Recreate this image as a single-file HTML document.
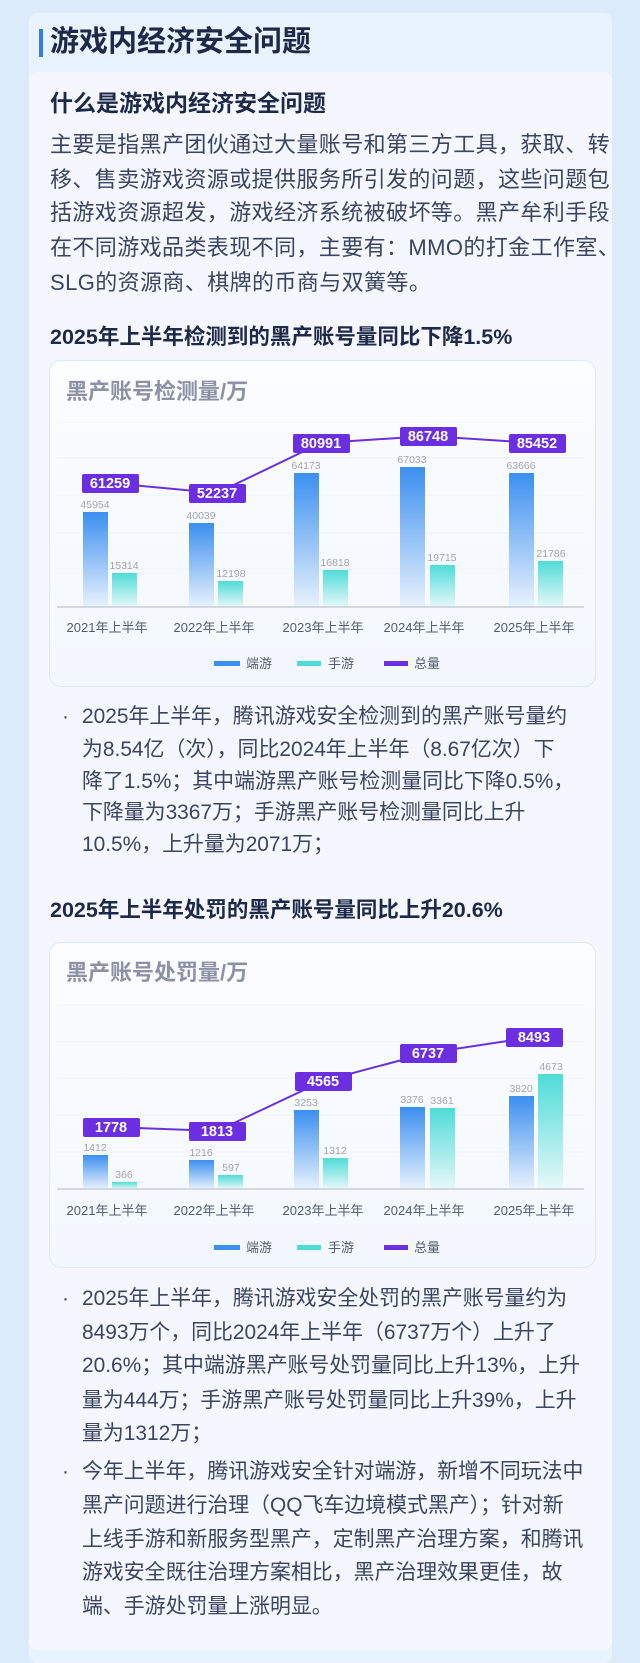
<!DOCTYPE html>
<html><head><meta charset="utf-8"><style>
*{margin:0;padding:0;box-sizing:border-box}
body{width:640px;height:1663px;background:#dcebfa;position:relative;overflow:hidden;font-family:"Liberation Sans","Noto Sans CJK SC",sans-serif}
.a{position:absolute;white-space:nowrap}
.t{color:#3b4461;font-size:20.9px;height:34px;line-height:34px}
.b{font-size:22px;letter-spacing:0.4px}
.h{color:#1e2848;font-weight:bold}
</style></head><body>
<div class="a" style="left:29px;top:13px;width:583px;height:1650px;background:#e9f3fd;border-radius:8px"></div>
<div class="a" style="left:29px;top:72px;width:583px;height:1578px;background:#f4f8fe;border-radius:8px"></div>
<div class="a" style="left:39px;top:29px;width:4px;height:28px;background:#2f7fe6"></div>
<div class="a h" style="left:50px;top:24px;font-size:29px;line-height:36px">游戏内经济安全问题</div>
<div class="a h" style="left:50px;top:89px;font-size:23px;line-height:28px">什么是游戏内经济安全问题</div>
<div class="a t b" style="left:50px;top:128px">主要是指黑产团伙通过大量账号和第三方工具，获取、转</div>
<div class="a t b" style="left:50px;top:163px">移、售卖游戏资源或提供服务所引发的问题，这些问题包</div>
<div class="a t b" style="left:50px;top:196px">括游戏资源超发，游戏经济系统被破坏等。黑产牟利手段</div>
<div class="a t b" style="left:50px;top:231px">在不同游戏品类表现不同，主要有：MMO的打金工作室、</div>
<div class="a t b" style="left:50px;top:266px">SLG的资源商、棋牌的币商与双簧等。</div>
<div class="a h" style="left:50px;top:324px;font-size:21.5px;line-height:26px">2025年上半年检测到的黑产账号量同比下降1.5%</div>

<div class="a" style="left:49px;top:360px;width:547px;height:327px;background:linear-gradient(#fbfdff,#f3f8fe);border:1px solid #dbe8f6;border-radius:12px"></div>
<div class="a" style="left:66px;top:379px;font-size:22px;line-height:26px;font-weight:bold;color:#8c91a6">黑产账号检测量/万</div>

<div class="a t" style="left:62px;top:700px">·</div>
<div class="a t" style="left:82px;top:700px">2025年上半年，腾讯游戏安全检测到的黑产账号量约</div>
<div class="a t" style="left:82px;top:733px">为8.54亿（次），同比2024年上半年（8.67亿次）下</div>
<div class="a t" style="left:82px;top:765px">降了1.5%；其中端游黑产账号检测量同比下降0.5%，</div>
<div class="a t" style="left:82px;top:796px">下降量为3367万；手游黑产账号检测量同比上升</div>
<div class="a t" style="left:82px;top:828px">10.5%，上升量为2071万；</div>
<div class="a h" style="left:50px;top:897px;font-size:21.5px;line-height:26px">2025年上半年处罚的黑产账号量同比上升20.6%</div>

<div class="a" style="left:49px;top:942px;width:547px;height:326px;background:linear-gradient(#fbfdff,#f3f8fe);border:1px solid #dbe8f6;border-radius:12px"></div>
<div class="a" style="left:66px;top:960px;font-size:22px;line-height:26px;font-weight:bold;color:#8c91a6">黑产账号处罚量/万</div>

<div class="a t" style="left:62px;top:1282px">·</div>
<div class="a t" style="left:82px;top:1282px">2025年上半年，腾讯游戏安全处罚的黑产账号量约为</div>
<div class="a t" style="left:82px;top:1316px">8493万个，同比2024年上半年（6737万个）上升了</div>
<div class="a t" style="left:82px;top:1349px">20.6%；其中端游黑产账号处罚量同比上升13%，上升</div>
<div class="a t" style="left:82px;top:1384px">量为444万；手游黑产账号处罚量同比上升39%，上升</div>
<div class="a t" style="left:82px;top:1417px">量为1312万；</div>
<div class="a t" style="left:62px;top:1455px">·</div>
<div class="a t" style="left:82px;top:1455px">今年上半年，腾讯游戏安全针对端游，新增不同玩法中</div>
<div class="a t" style="left:82px;top:1489px">黑产问题进行治理（QQ飞车边境模式黑产）；针对新</div>
<div class="a t" style="left:82px;top:1523px">上线手游和新服务型黑产，定制黑产治理方案，和腾讯</div>
<div class="a t" style="left:82px;top:1556px">游戏安全既往治理方案相比，黑产治理效果更佳，故</div>
<div class="a t" style="left:82px;top:1590px">端、手游处罚量上涨明显。</div>

<svg class="a" style="left:0;top:0" width="640" height="1663" font-family="Liberation Sans, Noto Sans CJK SC, sans-serif">
<defs>
<linearGradient id="gb" x1="0" y1="0" x2="0" y2="1"><stop offset="0" stop-color="#3b8ff0"/><stop offset="1" stop-color="#e8f2fd"/></linearGradient>
<linearGradient id="gc" x1="0" y1="0" x2="0" y2="1"><stop offset="0" stop-color="#4fdcd8"/><stop offset="1" stop-color="#e6f8f8"/></linearGradient>
</defs>
<g stroke="#eef2f7" stroke-width="1">
<line x1="57" x2="584" y1="422" y2="422"/><line x1="57" x2="584" y1="458" y2="458"/><line x1="57" x2="584" y1="495" y2="495"/><line x1="57" x2="584" y1="533" y2="533"/><line x1="57" x2="584" y1="569" y2="569"/>
<line x1="57" x2="584" y1="1005" y2="1005"/><line x1="57" x2="584" y1="1042" y2="1042"/><line x1="57" x2="584" y1="1078" y2="1078"/><line x1="57" x2="584" y1="1115" y2="1115"/><line x1="57" x2="584" y1="1152" y2="1152"/>
</g>
<g>
<rect x="83" y="512" width="25" height="95" fill="url(#gb)"/><rect x="112" y="573" width="25" height="34" fill="url(#gc)"/>
<rect x="189" y="523" width="25" height="84" fill="url(#gb)"/><rect x="218" y="581" width="25" height="26" fill="url(#gc)"/>
<rect x="294" y="473" width="25" height="134" fill="url(#gb)"/><rect x="323" y="570" width="25" height="37" fill="url(#gc)"/>
<rect x="400" y="467" width="25" height="140" fill="url(#gb)"/><rect x="430" y="565" width="25" height="42" fill="url(#gc)"/>
<rect x="509" y="473" width="25" height="134" fill="url(#gb)"/><rect x="538" y="561" width="25" height="46" fill="url(#gc)"/>
</g>
<g font-size="10.5" fill="#a0a4b0" text-anchor="middle">
<text x="95" y="508">45954</text><text x="124" y="569">15314</text>
<text x="201" y="519">40039</text><text x="231" y="577">12198</text>
<text x="306" y="469">64173</text><text x="335" y="566">16818</text>
<text x="412" y="463">67033</text><text x="442" y="561">19715</text>
<text x="521" y="469">63666</text><text x="551" y="557">21786</text>
</g>
<line x1="57" x2="584" y1="607" y2="607" stroke="#c9ced8" stroke-width="1.5"/>
<polyline points="110,483 217,493 321,443 428,436 537,443" fill="none" stroke="#6b30de" stroke-width="2"/>
<g fill="#6b2ee0"><rect x="82" y="474" width="57" height="19" rx="2"/><rect x="189" y="484" width="57" height="19" rx="2"/><rect x="293" y="434" width="57" height="19" rx="2"/><rect x="400" y="427" width="57" height="19" rx="2"/><rect x="509" y="434" width="57" height="19" rx="2"/></g>
<g font-size="14.5" font-weight="bold" fill="#fff" text-anchor="middle">
<text x="110" y="488">61259</text><text x="217" y="498">52237</text><text x="321" y="448">80991</text><text x="428" y="441">86748</text><text x="537" y="448">85452</text>
</g>
<g font-size="13" fill="#555c6e" text-anchor="middle">
<text x="107" y="632">2021年上半年</text><text x="214" y="632">2022年上半年</text><text x="323" y="632">2023年上半年</text><text x="424" y="632">2024年上半年</text><text x="534" y="632">2025年上半年</text>
</g>
<g font-size="13" fill="#555c6e">
<rect x="214" y="661" width="26" height="5" fill="#3b8ff0"/><text x="246" y="668">端游</text>
<rect x="297" y="661" width="24" height="5" fill="#4fdcd8"/><text x="328" y="668">手游</text>
<rect x="384" y="661" width="24" height="5" fill="#6b2ee0"/><text x="414" y="668">总量</text>
</g>

<g>
<rect x="83" y="1155" width="25" height="34" fill="url(#gb)"/><rect x="112" y="1182" width="25" height="7" fill="url(#gc)"/>
<rect x="189" y="1160" width="25" height="29" fill="url(#gb)"/><rect x="218" y="1175" width="25" height="14" fill="url(#gc)"/>
<rect x="294" y="1110" width="25" height="79" fill="url(#gb)"/><rect x="323" y="1158" width="25" height="31" fill="url(#gc)"/>
<rect x="400" y="1107" width="25" height="82" fill="url(#gb)"/><rect x="430" y="1108" width="25" height="81" fill="url(#gc)"/>
<rect x="509" y="1096" width="25" height="93" fill="url(#gb)"/><rect x="538" y="1074" width="25" height="115" fill="url(#gc)"/>
</g>
<g font-size="10.5" fill="#a0a4b0" text-anchor="middle">
<text x="95" y="1151">1412</text><text x="124" y="1178">366</text>
<text x="201" y="1156">1216</text><text x="231" y="1171">597</text>
<text x="306" y="1106">3253</text><text x="335" y="1154">1312</text>
<text x="412" y="1103">3376</text><text x="442" y="1104">3361</text>
<text x="521" y="1092">3820</text><text x="551" y="1070">4673</text>
</g>
<line x1="57" x2="584" y1="1189" y2="1189" stroke="#c9ced8" stroke-width="1.5"/>
<polyline points="111,1127 217,1131 323,1081 428,1053 534,1037" fill="none" stroke="#6b30de" stroke-width="2"/>
<g fill="#6b2ee0"><rect x="83" y="1118" width="57" height="19" rx="2"/><rect x="189" y="1122" width="57" height="19" rx="2"/><rect x="295" y="1072" width="57" height="19" rx="2"/><rect x="400" y="1044" width="57" height="19" rx="2"/><rect x="506" y="1028" width="57" height="19" rx="2"/></g>
<g font-size="14.5" font-weight="bold" fill="#fff" text-anchor="middle">
<text x="111" y="1132">1778</text><text x="217" y="1136">1813</text><text x="323" y="1086">4565</text><text x="428" y="1058">6737</text><text x="534" y="1042">8493</text>
</g>
<g font-size="13" fill="#555c6e" text-anchor="middle">
<text x="107" y="1215">2021年上半年</text><text x="214" y="1215">2022年上半年</text><text x="323" y="1215">2023年上半年</text><text x="424" y="1215">2024年上半年</text><text x="534" y="1215">2025年上半年</text>
</g>
<g font-size="13" fill="#555c6e">
<rect x="214" y="1245" width="26" height="5" fill="#3b8ff0"/><text x="246" y="1252">端游</text>
<rect x="297" y="1245" width="24" height="5" fill="#4fdcd8"/><text x="328" y="1252">手游</text>
<rect x="384" y="1245" width="24" height="5" fill="#6b2ee0"/><text x="414" y="1252">总量</text>
</g>
</svg>
</body></html>
